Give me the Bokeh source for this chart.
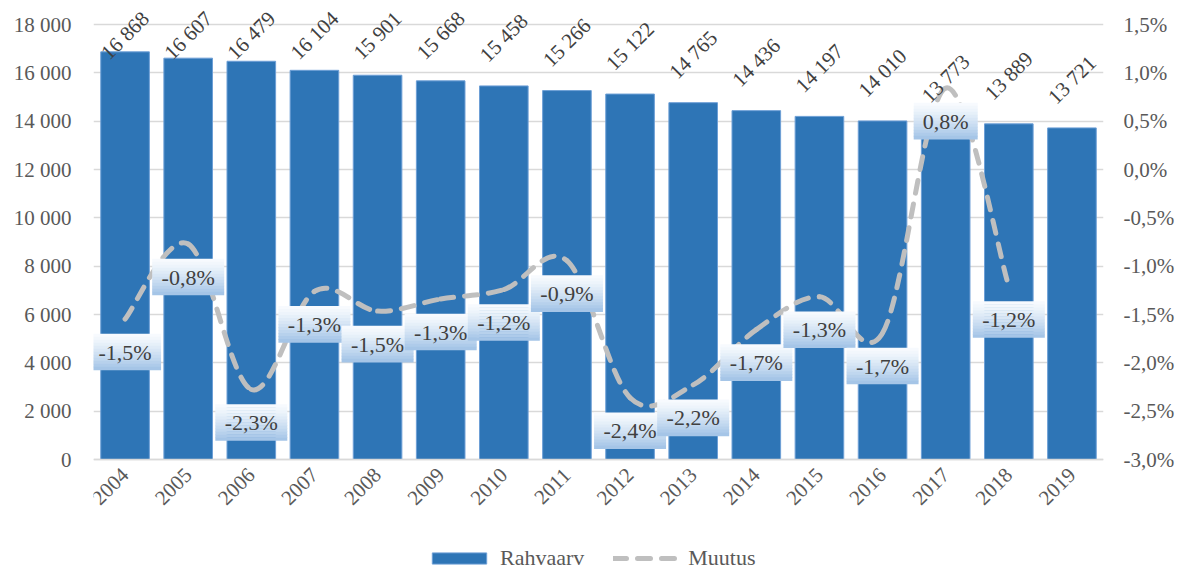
import math
import numpy as np
from bokeh.plotting import figure
from bokeh.models import (FactorRange, Range1d, LinearAxis, FixedTicker,
                          ColumnDataSource, Legend, LegendItem, LabelSet)
from bokeh.core.properties import value
from bokeh.embed import file_html
from bokeh.resources import INLINE

# ---------------- data ----------------
years = ["2004", "2005", "2006", "2007", "2008", "2009", "2010", "2011",
         "2012", "2013", "2014", "2015", "2016", "2017", "2018", "2019"]
population = [16868, 16607, 16479, 16104, 15901, 15668, 15458, 15266,
              15122, 14765, 14436, 14197, 14010, 13773, 13889, 13721]
change_years = ["2004", "2005", "2006", "2007", "2008", "2009", "2010", "2011",
                "2012", "2013", "2014", "2015", "2016", "2017", "2018"]
change_pct = [-1.547, -0.771, -2.276, -1.261, -1.465, -1.340, -1.242, -0.943,
              -2.361, -2.228, -1.656, -1.317, -1.692, 0.842, -1.210]
left_ticks = [0, 2000, 4000, 6000, 8000, 10000, 12000, 14000, 16000, 18000]
left_tick_labels = ["0", "2 000", "4 000", "6 000", "8 000", "10 000",
                    "12 000", "14 000", "16 000", "18 000"]
right_ticks = [-3.0, -2.5, -2.0, -1.5, -1.0, -0.5, 0.0, 0.5, 1.0, 1.5]
right_tick_labels = ["-3,0%", "-2,5%", "-2,0%", "-1,5%", "-1,0%", "-0,5%",
                     "0,0%", "0,5%", "1,0%", "1,5%"]
series_names = ["Rahvaarv", "Muutus"]

# ---------------- style / geometry ----------------
FONT = "Liberation Serif"
BAR_COLOR = "#2e75b6"
LINE_COLOR = "#bfbfbf"
GRID_COLOR = "#d9d9d9"
TICK_COLOR = "#595959"
LABEL_COLOR = "#404040"
FRAME_W, FRAME_H = 1010, 572
ZERO_PX = 459                # pixel row of the zero line, from the top
AXIS_SPAN_PX = 435           # pixels between lowest and highest tick

px_per_pop = AXIS_SPAN_PX / (left_ticks[-1] - left_ticks[0])
px_per_pct = AXIS_SPAN_PX / (right_ticks[-1] - right_ticks[0])
y_top = left_ticks[0] + ZERO_PX / px_per_pop
y_bot = left_ticks[0] - (FRAME_H - ZERO_PX) / px_per_pop
pct_top = right_ticks[0] + ZERO_PX / px_per_pct
pct_bot = right_ticks[0] - (FRAME_H - ZERO_PX) / px_per_pct

p = figure(x_range=FactorRange(factors=years, range_padding=0),
           y_range=Range1d(y_bot, y_top),
           frame_width=FRAME_W, frame_height=FRAME_H,
           min_border_left=93, min_border_right=77,
           min_border_top=0, min_border_bottom=0,
           output_backend="svg", toolbar_location=None, title=None)
p.extra_y_ranges = {"pct": Range1d(pct_bot, pct_top)}
p.outline_line_color = None
p.background_fill_color = "white"
p.border_fill_color = "white"

# left axis
ya = p.yaxis[0]
ya.ticker = FixedTicker(ticks=left_ticks)
ya.major_label_overrides = dict(zip(left_ticks, left_tick_labels))
ya.axis_line_color = None
ya.major_tick_line_color = None
ya.minor_tick_line_color = None
ya.major_tick_out = 0
ya.major_tick_in = 0
ya.major_label_standoff = 22
ya.major_label_text_font = FONT
ya.major_label_text_font_size = "21px"
ya.major_label_text_color = TICK_COLOR

# right axis
ra = LinearAxis(y_range_name="pct", ticker=FixedTicker(ticks=right_ticks),
                major_label_overrides=dict(zip(right_ticks, right_tick_labels)))
ra.axis_line_color = None
ra.major_tick_line_color = None
ra.minor_tick_line_color = None
ra.major_tick_out = 0
ra.major_tick_in = 0
ra.major_label_standoff = 20
ra.major_label_text_font = FONT
ra.major_label_text_font_size = "21px"
ra.major_label_text_color = TICK_COLOR
p.add_layout(ra, "right")

# x axis, pinned at the zero line
xa = p.xaxis[0]
xa.fixed_location = 0
xa.major_label_orientation = math.pi / 4
xa.axis_line_color = GRID_COLOR
xa.axis_line_width = 1.5
xa.major_tick_line_color = None
xa.major_tick_out = 0
xa.major_tick_in = 0
xa.major_label_standoff = 12
xa.major_label_text_font = FONT
xa.major_label_text_font_size = "21px"
xa.major_label_text_color = TICK_COLOR

p.xgrid.grid_line_color = None
p.ygrid.grid_line_color = GRID_COLOR
p.ygrid.grid_line_width = 1.5

# bars
bars = p.vbar(x=years, top=population, bottom=0, width=0.77,
              fill_color=BAR_COLOR, line_color="#6d9fd6", line_width=1)

# bar value labels (rotated 45 deg, above bar, kept inside the top)
pop = np.array(population, dtype=float)
bar_label_y = np.minimum(pop + 48 / px_per_pop, y_top - 35 / px_per_pop)
bar_labels = [f"{v:,}".replace(",", " ") for v in population]
bl_src = ColumnDataSource(dict(x=years, y=bar_label_y, t=bar_labels))
p.add_layout(LabelSet(x="x", y="y", text="t", source=bl_src,
                      angle=math.pi / 4, text_align="center",
                      text_baseline="middle", text_font=value(FONT),
                      text_font_size="21px", text_color=LABEL_COLOR))

# smoothed change line (cubic bezier through the points)
xs = np.arange(len(change_pct)) + 0.5
ys = np.array(change_pct, dtype=float)
n = len(xs)
x0, y0, x1, y1, cx0, cy0, cx1, cy1 = ([] for _ in range(8))
for i in range(n - 1):
    ip = max(i - 1, 0)
    inn = min(i + 2, n - 1)
    x0.append(xs[i]); y0.append(ys[i]); x1.append(xs[i + 1]); y1.append(ys[i + 1])
    cx0.append(xs[i] + (xs[i + 1] - xs[ip]) / 6)
    cy0.append(ys[i] + (ys[i + 1] - ys[ip]) / 6)
    cx1.append(xs[i + 1] - (xs[inn] - xs[i]) / 6)
    cy1.append(ys[i + 1] - (ys[inn] - ys[i]) / 6)
bsrc = ColumnDataSource(dict(x0=x0, y0=y0, x1=x1, y1=y1,
                             cx0=cx0, cy0=cy0, cx1=cx1, cy1=cy1))
line_r = p.bezier(x0="x0", y0="y0", x1="x1", y1="y1", cx0="cx0", cy0="cy0",
                  cx1="cx1", cy1="cy1", source=bsrc, y_range_name="pct",
                  line_color=LINE_COLOR, line_width=5, line_dash="13 11",
                  line_cap="round")

# change labels: gradient boxes below each point
pct_labels = [f"{v:.1f}%".replace(".", ",") for v in change_pct]
BOX_OFF, BOX_H, N_STRIPS = 33, 36, 12
top_rgb = np.array([248, 251, 254])
bot_rgb = np.array([160, 194, 230])
sx, sy, sw, sc = [], [], [], []
for yr, v, lab in zip(change_years, change_pct, pct_labels):
    w = 8 * len(lab) + 32
    for k in range(N_STRIPS):
        t = (k + 0.5) / N_STRIPS
        off = BOX_OFF - BOX_H / 2 + (k + 0.5) * BOX_H / N_STRIPS
        c = top_rgb + (bot_rgb - top_rgb) * (t ** 1.3)
        sx.append(yr)
        sy.append(v - off / px_per_pct)
        sw.append(w)
        sc.append("#%02x%02x%02x" % tuple(int(round(q)) for q in c))
ssrc = ColumnDataSource(dict(x=sx, y=sy, w=sw, c=sc))
p.rect(x="x", y="y", width="w", height=BOX_H / N_STRIPS + 0.6,
       width_units="screen", height_units="screen", source=ssrc,
       y_range_name="pct", fill_color="c", line_color=None)

p.text(x=change_years, y=ys - BOX_OFF / px_per_pct, text=pct_labels,
       y_range_name="pct", text_align="center", text_baseline="middle",
       text_font=value(FONT), text_font_size="22px", text_color=LABEL_COLOR)

# legend (inside the frame, under the pinned x axis)
legend = Legend(items=[LegendItem(label=series_names[0], renderers=[bars]),
                       LegendItem(label=series_names[1], renderers=[line_r])],
                location=(332, 1), orientation="horizontal",
                glyph_width=68, glyph_height=14, label_standoff=7, spacing=29,
                padding=0, margin=0, border_line_color=None,
                background_fill_alpha=0,
                label_text_font=FONT, label_text_font_size="22px",
                label_text_color=TICK_COLOR)
p.add_layout(legend)

open("out.html", "w").write(file_html(p, INLINE))
